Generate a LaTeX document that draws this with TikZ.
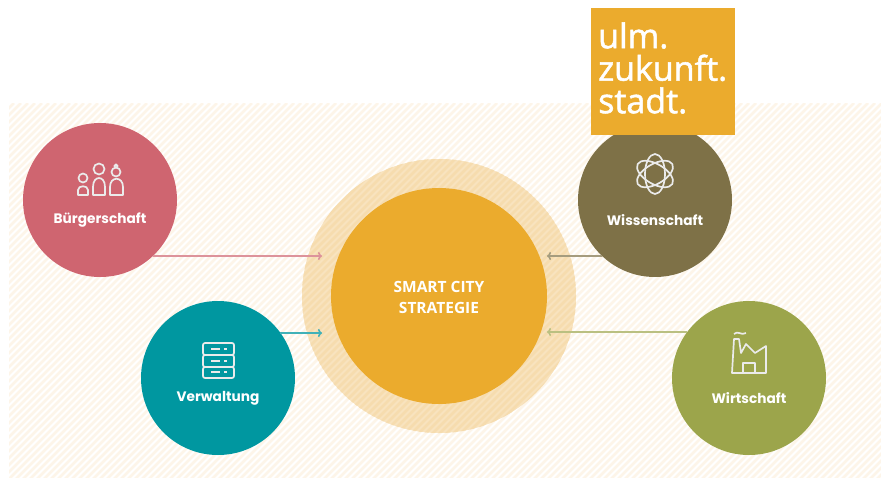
\documentclass[tikz,border=0pt]{standalone}
\usepackage{fontspec}
\setmainfont{Open Sans}
\newfontfamily\labelfont{Poppins}
\newfontfamily\logofont[FakeBold=1.5]{Open Sans}
\usepackage{tikz}
\usetikzlibrary{arrows.meta}

\definecolor{gold}{HTML}{EBAB2D}
\definecolor{ring}{HTML}{F8E3BE}
\definecolor{ringline}{HTML}{F6DCAE}
\definecolor{hatch}{HTML}{FDF5E9}
\definecolor{pink}{HTML}{CF6570}
\definecolor{teal}{HTML}{0097A0}
\definecolor{brown}{HTML}{7E7147}
\definecolor{moss}{HTML}{9CA54B}

\tikzset{
  sector/.style={circle, minimum size=154pt, inner sep=0pt},
  sectorname/.style={text=white, font=\labelfont\bfseries\fontsize{13.7}{13.7}\selectfont, inner sep=0pt},
  icon/.style={draw=white!92!black, line width=1.7pt, line join=round},
  flow/.style={line width=1.6pt, -{Computer Modern Rightarrow[width=8pt, length=4pt]}}
}

\begin{document}
\begin{tikzpicture}[x=1pt, y=-1pt]

\useasboundingbox (0, 0) rectangle (881, 477);

% background
\begin{scope}
\clip (9, 103) rectangle (881, 477);
\foreach \i in {0, 7, ..., 1330} {
  \draw [hatch, line width=2.5pt] (\i, 103) -- (\i - 380, 483);
}
\end{scope}

\node [circle, fill=ring, minimum size=274pt, inner sep=0pt] (outer) at (439, 296) {};
\begin{scope}
\clip (439, 296) circle [radius=137];
\foreach \i in {0, 7, ..., 1330} {
  \draw [ringline, line width=2.5pt] (\i, 103) -- (\i - 380, 483);
}
\end{scope}

\coordinate (tipbuerger) at (322, 256);
\coordinate (tipverwaltung) at (322, 333);
\coordinate (tipwissen) at (547, 256);
\coordinate (tipwirtschaft) at (547, 332);

\node [sector, fill=pink] (buerger) at (100, 200) {};
\node [sector, fill=teal] (verwaltung) at (218, 378) {};
\node [sector, fill=brown] (wissen) at (655, 200) {};
\node [sector, fill=moss] (wirtschaft) at (749, 378) {};
\node [circle, fill=gold, minimum size=216pt, inner sep=0pt] (center) at (439, 296) {};

\draw [flow, draw=pink!70!white] (tipbuerger -| buerger.-47) -- (tipbuerger);
\draw [flow, draw=teal!75!white] (tipverwaltung -| verwaltung.36) -- (tipverwaltung);
\draw [flow, draw=brown!70!white] (tipwissen -| wissen.-133) -- (tipwissen);
\draw [flow, draw=moss!70!white] (tipwirtschaft -| wirtschaft.143) -- (tipwirtschaft);

\node [sectorname] (buergertext) at (100, 220) {Bürgerschaft};
\node [sectorname] (verwaltungtext) at (218, 398) {Verwaltung};
\node [sectorname] (wissentext) at (655, 220) {Wissenschaft};
\node [sectorname] (wirtschafttext) at (749, 398) {Wirtschaft};

\node [text=white, font=\bfseries\fontsize{15.5}{21}\selectfont, align=center, inner sep=0pt] (centertext) at (439, 297) {SMART CITY\\STRATEGIE};

% people
\draw [icon] (83, 178) circle [radius=4.5];
\draw [icon] (78, 195) -- (78, 190) .. controls (78, 185) and (88, 185) .. (88, 190) -- (88, 195) -- cycle;
\draw [icon] (99, 169) circle [radius=5.5];
\draw [icon] (93, 195) -- (93, 187) .. controls (93, 175) and (105, 175) .. (105, 187) -- (105, 195) -- cycle;
\draw [icon] (116, 172) circle [radius=4.5];
\draw [icon] (116, 166) circle [radius=1.7];
\draw [icon] (110, 195) -- (110, 187) .. controls (110, 176) and (123, 176) .. (123, 187) -- (123, 195) -- cycle;

% server
\draw [icon, rounded corners=2pt] (203, 343) rectangle (234, 355);
\draw [icon, rounded corners=2pt] (203, 355) rectangle (234, 367);
\draw [icon, rounded corners=2pt] (203, 367) rectangle (234, 378);
\foreach \y in {349, 361, 372} {
  \draw [icon] (211, \y) -- (220, \y);
  \draw [icon] (224, \y) -- (227, \y);
}

% atom
\foreach \a in {90, 30, -30} {
  \draw [icon, rotate around={\a:(655, 174)}] (655, 174) ellipse [x radius=20, y radius=10];
}

% factory
\draw [icon] (732, 373) -- (734, 339) -- (739, 339) -- (741, 353) -- (746, 344) -- (755, 353) -- (766, 346) -- (766, 373) -- cycle;
\draw [icon] (743, 373) -- (743, 363) -- (755, 363) -- (755, 373);
\draw [icon] (734, 334) .. controls (738, 330) and (741, 336) .. (746, 333);

\node [fill=gold, minimum width=144pt, minimum height=127pt, inner sep=0pt] (logo) at (663, 71.5) {};
\node [text=white, font=\logofont\fontsize{34}{32.5}\selectfont, align=left, inner sep=0pt, anchor=west] (logotext) at (598, 68) {ulm.\\zukunft.\\stadt.};

\end{tikzpicture}
\end{document}
